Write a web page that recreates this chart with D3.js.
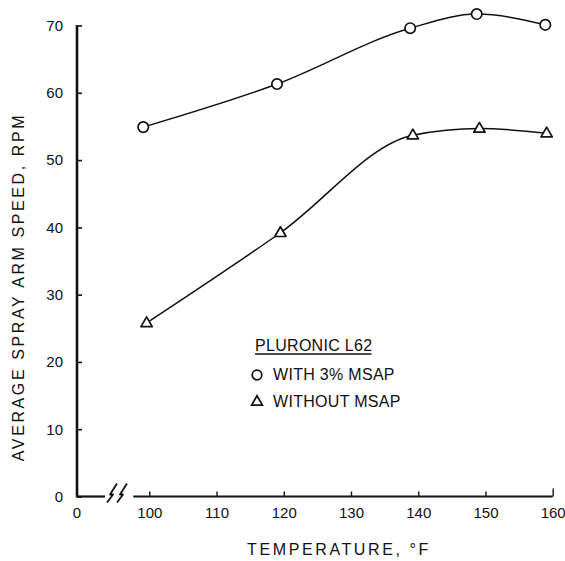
<!DOCTYPE html>
<html>
<head>
<meta charset="utf-8">
<script src="https://cdn.jsdelivr.net/npm/d3@7"></script>
<style>
  body { margin: 0; background: #fff; }
  svg { display: block; }
  .tick text { font-family: "Liberation Sans", Arial, sans-serif; font-size: 15px; fill: #111; }
  .axis-label { font-family: "Liberation Sans", Arial, sans-serif; font-size: 16px; fill: #111; letter-spacing: 2.6px; }
  .legend text { font-family: "Liberation Sans", Arial, sans-serif; font-size: 16px; fill: #111; letter-spacing: 0.3px; }
</style>
</head>
<body>
<div class="chart-container"></div>
<script>
// temperatures (deg F)
const tempWith = [99.1, 119, 138.8, 148.7, 158.9];
const rpmWith = [54.9, 61.3, 69.6, 71.7, 70.1];
const tempWithout = [99.6, 119.5, 139.2, 149.1, 159.1];
const rpmWithout = [25.8, 39.2, 53.7, 54.7, 54.0];

const xTicks = [100, 110, 120, 130, 140, 150, 160];
const yTicks = [0, 10, 20, 30, 40, 50, 60, 70];
const legendTitle = "PLURONIC L62";
const legendItems = ["WITH 3% MSAP", "WITHOUT MSAP"];

const width = 565, height = 561;
const axisX = 77;       // where the y axis stands (x = 0 after the break)
const margin = {top: 25.5, bottom: 64.5};

const svg = d3.select(".chart-container").append("svg")
    .attr("width", width)
    .attr("height", height);

const x = d3.scaleLinear().domain([100, 160]).range([149.3, 552.7]);
const y = d3.scaleLinear().domain([0, 70]).range([height - margin.bottom, margin.top]);

// y axis, ticks pointing inward
const yAxis = svg.append("g")
    .attr("transform", "translate(" + axisX + ",0)")
    .call(d3.axisLeft(y).tickValues(yTicks).tickSizeInner(-5).tickSizeOuter(0).tickPadding(14));
yAxis.select(".domain").attr("stroke", "#111").attr("stroke-width", 2.6)
    .attr("d", "M0," + (y(70) - 0.5) + "V" + (y(0) + 1));
yAxis.selectAll(".tick line").attr("stroke", "#111").attr("stroke-width", 1.6);

// x axis (after the break)
const xAxis = svg.append("g")
    .attr("transform", "translate(0," + y(0) + ")")
    .call(d3.axisBottom(x).tickValues(xTicks).tickSizeInner(-5).tickSizeOuter(0).tickPadding(11));
xAxis.select(".domain").attr("stroke", "#111").attr("stroke-width", 2.2)
    .attr("d", "M" + (x(100) - 16) + ",0H" + x(160));
xAxis.selectAll(".tick line").attr("stroke", "#111").attr("stroke-width", 1.4);
xAxis.selectAll(".tick").filter((d) => d === 160).select("line").attr("y2", -8);

// short piece from the origin to the break, and the break marks
const g0 = svg.append("g").attr("transform", "translate(0," + y(0) + ")");
g0.append("path")
    .attr("d", "M" + axisX + ",0H" + (axisX + 28))
    .attr("stroke", "#111").attr("stroke-width", 2.2).attr("fill", "none");
[0, 10].forEach((dx) => {
  const bx = axisX + 30 + dx;
  g0.append("path")
      .attr("d", "M" + bx + ",6 L" + (bx + 6) + ",-2 L" + (bx + 3) + ",-2 L" + (bx + 10) + ",-13")
      .attr("stroke", "#111").attr("stroke-width", 1.8).attr("fill", "none")
      .attr("stroke-linejoin", "round");
});
g0.append("text")
    .attr("x", axisX)
    .attr("y", 11)
    .attr("dy", "0.71em")
    .attr("text-anchor", "middle")
    .style("font-family", "Liberation Sans, Arial, sans-serif")
    .style("font-size", "15px")
    .attr("fill", "#111")
    .text("0");

// axis titles
svg.append("text")
    .attr("class", "axis-label")
    .attr("transform", "translate(" + 339 + "," + (height - 6) + ")")
    .attr("text-anchor", "middle")
    .text("TEMPERATURE, \u00B0F");

svg.append("text")
    .attr("class", "axis-label")
    .attr("transform", "translate(24," + 287 + ") rotate(-90)")
    .attr("text-anchor", "middle")
    .text("AVERAGE SPRAY ARM SPEED, RPM");

// curves
const line = d3.line()
    .x((d) => x(d[0]))
    .y((d) => y(d[1]))
    .curve(d3.curveMonotoneX);

const withData = tempWith.map((t, i) => [t, rpmWith[i]]);
const withoutData = tempWithout.map((t, i) => [t, rpmWithout[i]]);

[withData, withoutData].forEach((data) => {
  svg.append("path")
      .datum(data)
      .attr("d", line)
      .attr("fill", "none")
      .attr("stroke", "#111")
      .attr("stroke-width", 1.5);
});

const tri = d3.symbol().type(d3.symbolTriangle).size(55);

svg.selectAll(".pt-with")
    .data(withData)
  .enter().append("circle")
    .attr("cx", (d) => x(d[0]))
    .attr("cy", (d) => y(d[1]))
    .attr("r", 5.2)
    .attr("fill", "#fff")
    .attr("stroke", "#111")
    .attr("stroke-width", 1.7);

svg.selectAll(".pt-without")
    .data(withoutData)
  .enter().append("path")
    .attr("d", tri)
    .attr("transform", (d) => "translate(" + x(d[0]) + "," + (y(d[1]) + 0.5) + ")")
    .attr("fill", "#fff")
    .attr("stroke", "#111")
    .attr("stroke-width", 1.7)
    .attr("stroke-linejoin", "round");

// legend
const legend = svg.append("g").attr("class", "legend").attr("transform", "translate(255,351)");
const title = legend.append("text").attr("x", 0).attr("y", 0).text(legendTitle);
const tw = title.node().getComputedTextLength();
legend.append("line")
    .attr("x1", 0).attr("x2", tw - 1)
    .attr("y1", 3).attr("y2", 3)
    .attr("stroke", "#111").attr("stroke-width", 1.3);

legendItems.forEach((label, i) => {
  const ly = 29 + i * 27;
  if (i === 0) {
    legend.append("circle").attr("cx", 2).attr("cy", ly - 5).attr("r", 4.8)
        .attr("fill", "none").attr("stroke", "#111").attr("stroke-width", 1.7);
  } else {
    legend.append("path").attr("d", d3.symbol().type(d3.symbolTriangle).size(50))
        .attr("transform", "translate(2," + (ly - 5) + ")")
        .attr("fill", "none").attr("stroke", "#111").attr("stroke-width", 1.7);
  }
  legend.append("text").attr("x", 18).attr("y", ly).text(label);
});
</script>
</body>
</html>
